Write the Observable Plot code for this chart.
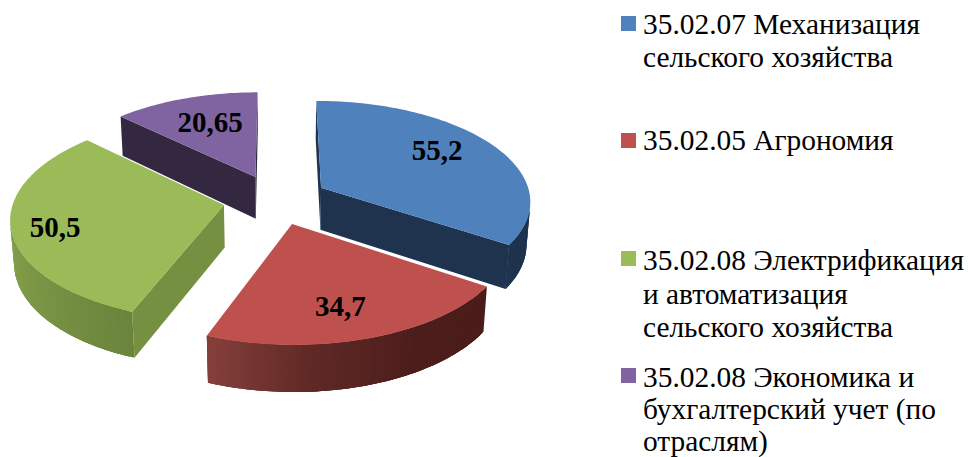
<!DOCTYPE html>
<html>
<head>
<meta charset="utf-8">
<script src="https://cdn.jsdelivr.net/npm/d3@7"></script>
<script src="https://cdn.jsdelivr.net/npm/@observablehq/plot@0.6"></script>
<style>
html,body{margin:0;padding:0;background:#fff;width:968px;height:457px;overflow:hidden}
#chart{position:absolute;left:0;top:0}
.lg{position:absolute;left:643px;font:29.4px/33.5px "Liberation Serif",serif;color:#000;white-space:pre}
.sw{position:absolute;left:621px;width:15px;height:15px}
</style>
</head>
<body>
<div id="chart"></div>
<script>
const categories = [
  "35.02.07 Механизация\nсельского хозяйства",
  "35.02.05 Агрономия",
  "35.02.08 Электрификация\nи автоматизация\nсельского хозяйства",
  "35.02.08 Экономика и\nбухгалтерский учет (по\nотраслям)"
];
const values = [55.2, 34.7, 50.5, 20.65];
const valueLabels = ["55,2", "34,7", "50,5", "20,65"];
const topColors = ["#4F81BD", "#BE504D", "#9BBB59", "#8064A2"];
const cutColors = ["#1F334F", "#4A1C1A", "#759041", "#342841"];
const wallStops = [
  ["#1F334F", "#1F334F"],
  ["#4A1C1A", "#4C1D1B", "#5E2825", "#86403C"],
  ["#6A843C", "#7C9846", "#89A84F", "#7D9A47"],
  ["#342841", "#342841"]
];
const labelRadius = [0.7, 0.74, 0.8, 0.6];
const labelDx = [-5, -7, 1, -1.5];
const labelDy = [-6, 1, 5, -5];
const legendTops = [7.5, 124, 244, 360.5];
const legendLines = [33.5, 33.5, 33.5, 32];
const swatchTops = [16, 133, 251, 368];
const paintOrder = [3, 0, 2, 1];

// Perspective view of the exploded pie
const view = {cx: 275, cy: 199, rx: 210, ry: 100, persp: 0.12, sink: 0.015, depth: 43, explode: 0.25};
function project(X, Z, bottom) {
  const w = 1 - view.persp * Z + view.sink * bottom;
  return [view.cx + view.rx * X / w, view.cy + (view.ry * Z + view.depth * bottom) / w];
}
const total = d3.sum(values);
let acc = 0;
const slices = values.map((v, i) => {
  const a0 = acc / total * 2 * Math.PI;
  acc += v;
  const a1 = acc / total * 2 * Math.PI;
  const mid = (a0 + a1) / 2;
  return {i, a0, a1, mid, ox: view.explode * Math.sin(mid), oz: -view.explode * Math.cos(mid)};
});
const rim = (s, a, r = 1) => [s.ox + r * Math.sin(a), s.oz - r * Math.cos(a)];

const polys = [];
let pid = 0;
function addPoly(pts, color) {
  const id = pid++;
  pts.forEach(([x, y]) => polys.push({id, x, y, color}));
}
function facesViewer(worldPts) {
  const p = worldPts.map(([X, Z, b]) => project(X, Z, b));
  let area = 0;
  p.forEach((q, j) => { const r = p[(j + 1) % p.length]; area += q[0] * r[1] - r[0] * q[1]; });
  return area < 0;
}
const quad = (a, b) => [[...a, 0], [...b, 0], [...b, 1], [...a, 1]];
const toScreen = pts => pts.map(([X, Z, b]) => project(X, Z, b));
for (const k of paintOrder) {
  const s = slices[k];
  const n = Math.ceil((s.a1 - s.a0) / (Math.PI / 150));
  const angles = d3.range(n + 1).map(j => s.a0 + (s.a1 - s.a0) * j / n);
  const shade = d3.scaleLinear().domain(wallStops[k].map((_, j) => j / (wallStops[k].length - 1))).range(wallStops[k]);
  const apex = [s.ox, s.oz];
  const r0 = rim(s, s.a0), r1 = rim(s, s.a1);
  // cut faces
  for (const q of [quad(apex, r0), quad(r1, apex)]) {
    if (facesViewer(q)) addPoly(toScreen(q), cutColors[k]);
  }
  // outer wall: neighbours overlap so that no seams show
  for (let j = 0; j < n; j++) {
    const p = rim(s, angles[j]), q = rim(s, angles[j + 1]);
    if (!facesViewer(quad(p, q))) continue;
    const far = rim(s, angles[Math.min(j + 3, n)]);
    const mid = rim(s, angles[Math.min(j + 2, n)]);
    const strip = [[...p, 0], [...q, 0], [...mid, 0], [...far, 0], [...far, 1], [...mid, 1], [...q, 1], [...p, 1]];
    addPoly(toScreen(strip), shade((j + 0.5) / n));
  }
  // top face
  addPoly([project(...apex, 0), ...angles.map(a => project(...rim(s, a), 0))], topColors[k]);
}
const labelRows = slices.map(s => {
  const [X, Z] = rim(s, s.mid, labelRadius[s.i]);
  const [x, y] = project(X, Z, 0);
  return {x, y, label: valueLabels[s.i], dx: labelDx[s.i], dy: labelDy[s.i]};
});

const chart = Plot.plot({
  width: 968, height: 457, margin: 0,
  x: {domain: [0, 968], axis: null},
  y: {domain: [457, 0], axis: null},
  color: {type: "identity"},
  style: {background: "transparent"},
  marks: [
    Plot.line(polys, {x: "x", y: "y", z: "id", fill: "color", stroke: null, curve: "linear-closed"}),
    Plot.text(labelRows, {x: d => d.x + d.dx, y: d => d.y + d.dy, text: "label", fontFamily: "Liberation Serif", fontWeight: "bold", fontSize: 29, fill: "#000"})
  ]
});
document.getElementById("chart").append(chart);

categories.forEach((c, i) => {
  const t = document.createElement("div");
  t.className = "lg"; t.style.top = legendTops[i] + "px"; t.style.lineHeight = legendLines[i] + "px"; t.textContent = c;
  document.body.append(t);
  const b = document.createElement("div");
  b.className = "sw"; b.style.top = swatchTops[i] + "px"; b.style.background = topColors[i];
  document.body.append(b);
});
</script>
</body>
</html>
